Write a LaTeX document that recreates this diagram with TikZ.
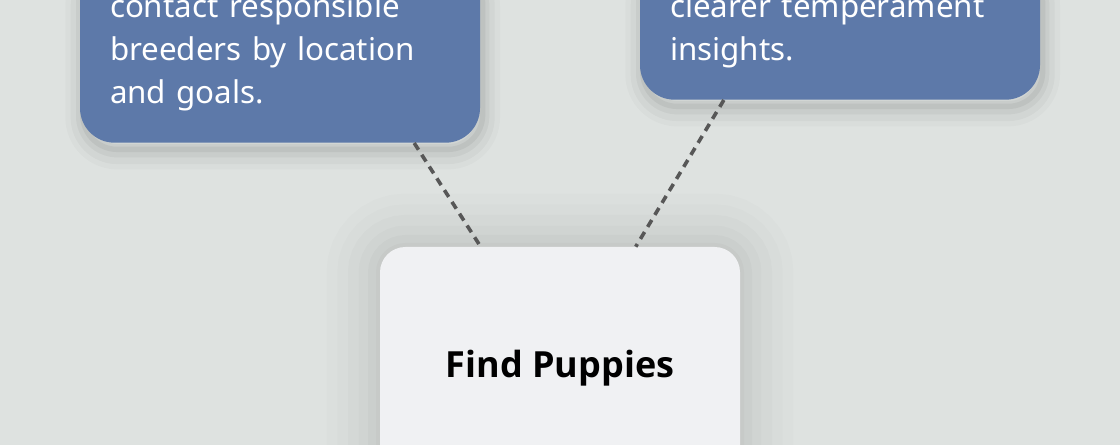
\documentclass[tikz,border=0pt]{standalone}
\usepackage{fontspec}
\setmainfont{Noto Sans}
\newfontfamily\headfont{Open Sans}
\usepackage{tikz}
\usetikzlibrary{calc}

\definecolor{bgcol}{HTML}{DEE2E0}
\definecolor{cardblue}{HTML}{5D79A9}
\definecolor{cardlight}{HTML}{F0F1F3}
\definecolor{linkgrey}{HTML}{575757}

\tikzset{
  softshade/.style={draw=black, draw opacity=#1},
  bluecard/.style={rounded corners=26pt, fill=cardblue, text=white,
    text width=255pt, inner xsep=22.5pt, inner ysep=24pt, align=left,
    font=\fontsize{23.5}{32}\selectfont,
    preaction={softshade=0.02, line width=26pt, transform canvas={xshift=2pt,yshift=-7pt}},
    preaction={softshade=0.03, line width=18pt, transform canvas={xshift=2pt,yshift=-7pt}},
    preaction={softshade=0.04, line width=10pt, transform canvas={xshift=2pt,yshift=-6pt}},
    preaction={softshade=0.05, line width=4pt, transform canvas={xshift=2pt,yshift=-5pt}}},
  maincard/.style={rounded corners=19pt, fill=cardlight, text=black,
    minimum width=270pt, minimum height=181.5pt,
    font=\headfont\fontsize{27}{32}\selectfont\bfseries,
    preaction={softshade=0.012, line width=80pt},
    preaction={softshade=0.012, line width=64pt},
    preaction={softshade=0.014, line width=48pt},
    preaction={softshade=0.016, line width=32pt},
    preaction={softshade=0.018, line width=18pt},
    preaction={softshade=0.02, line width=6pt}},
  link/.style={draw=linkgrey, line width=2.7pt, dash pattern=on 6pt off 4.5pt}
}

\begin{document}
\begin{tikzpicture}[x=0.75pt,y=-0.75pt]
\useasboundingbox (0,0) rectangle (1120,445);
\clip (0,0) rectangle (1120,445);
\fill[bgcol] (0,0) rectangle (1120,445);

\node[maincard] (find) at (560,368) {Find Puppies};

\node[bluecard, anchor=south] (breeders) at (280,143)
  {contact responsible\\ breeders by location\\ and goals.};
\node[bluecard, anchor=south] (temper) at (840,100)
  {clearer temperament\\ insights.};

\draw[link] ($(breeders.south west)!0.835!(breeders.south east)$) -- ($(find.north west)!0.28!(find.north east)$);
\draw[link] ($(temper.south west)!0.21!(temper.south east)$) -- ($(find.north west)!0.71!(find.north east)$);
\end{tikzpicture}
\end{document}
